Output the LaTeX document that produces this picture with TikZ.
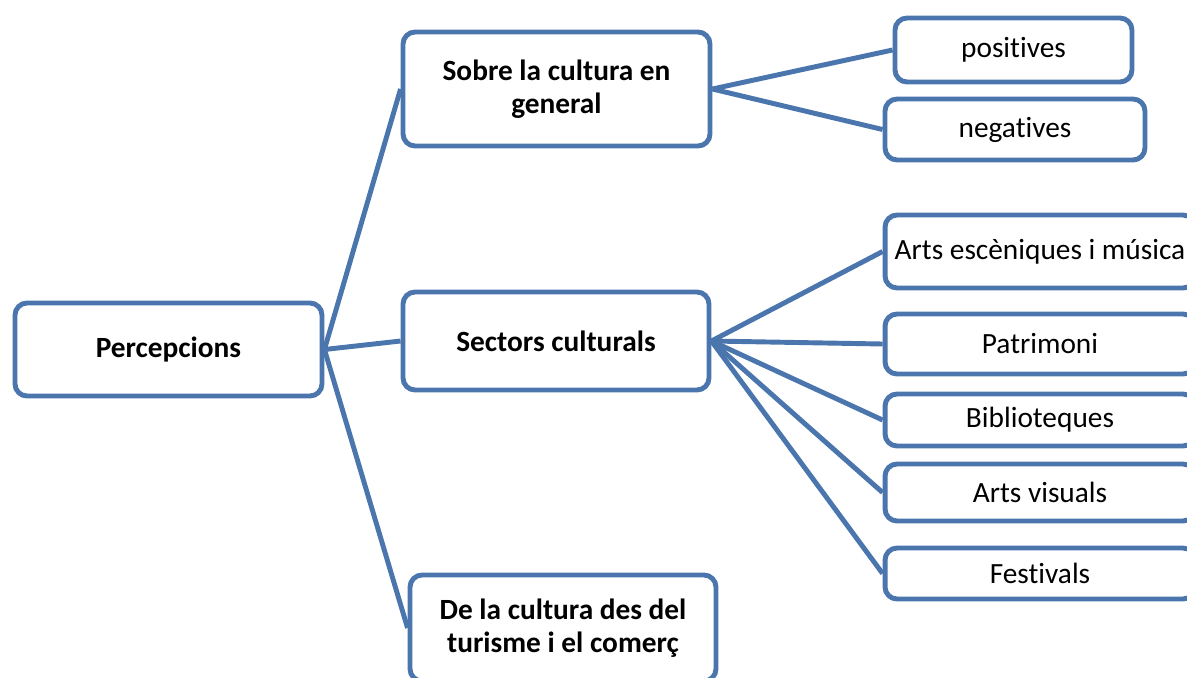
\documentclass[tikz,border=0pt]{standalone}
\usepackage{fontspec}
\setmainfont{Carlito}[Ligatures=NoCommon]
\usepackage{tikz}
\usetikzlibrary{positioning}
\usepackage{xcolor}
\definecolor{Steel}{HTML}{4A75AD}

\begin{document}
\begin{tikzpicture}[x=0.02cm, y=-0.02cm,
  every node/.style={font=\fontsize{16.7}{19}\selectfont},
  box/.style={draw=Steel, line width=2.8pt, rounded corners=0.24cm, fill=white, align=center, inner sep=0pt},
  head/.style={box, font=\fontsize{16.7}{19}\selectfont\bfseries},
  link/.style={draw=Steel, line width=2.8pt}]
  \useasboundingbox (0,0) rectangle (1187,677);
  % Root and first level
  \node[head, minimum width=6.14cm, minimum height=1.86cm] (perc) at (168.5,349.5) {Percepcions};
  \node[head, minimum width=6.14cm, minimum height=2.28cm] (sobre) at (556.5,89) {Sobre la cultura en\\general};
  \node[head, minimum width=6.12cm, minimum height=1.96cm] (sect) at (556,341) {Sectors culturals};
  \node[head, minimum width=6.12cm, minimum height=2.12cm] (tur) at (563,628) {De la cultura des del\\turisme i el comerç};
  % Second level
  \node[box, minimum width=4.74cm, minimum height=1.28cm] (pos) at (1013.5,50) {positives};
  \node[box, minimum width=5.20cm, minimum height=1.22cm] (neg) at (1015,129.5) {negatives};
  \node[box, minimum width=6.20cm, minimum height=1.46cm] (arts) at (1040,251.5) {Arts escèniques i música};
  \node[box, minimum width=6.20cm, minimum height=1.20cm] (patr) at (1040,344) {Patrimoni};
  \node[box, minimum width=6.20cm, minimum height=1.04cm] (bibl) at (1040,420) {Biblioteques};
  \node[box, minimum width=6.20cm, minimum height=1.14cm] (vis) at (1040,492.5) {Arts visuals};
  \node[box, minimum width=6.20cm, minimum height=1.02cm] (fest) at (1040,573.5) {Festivals};
  % Connectors
  \foreach \n in {sobre, sect, tur} {
    \draw[link] (perc.east) -- (\n.west);
  }
  \foreach \n in {pos, neg} {
    \draw[link] (sobre.east) -- (\n.west);
  }
  \foreach \n in {arts, patr, bibl, vis, fest} {
    \draw[link] (sect.east) -- (\n.west);
  }
\end{tikzpicture}
\end{document}
